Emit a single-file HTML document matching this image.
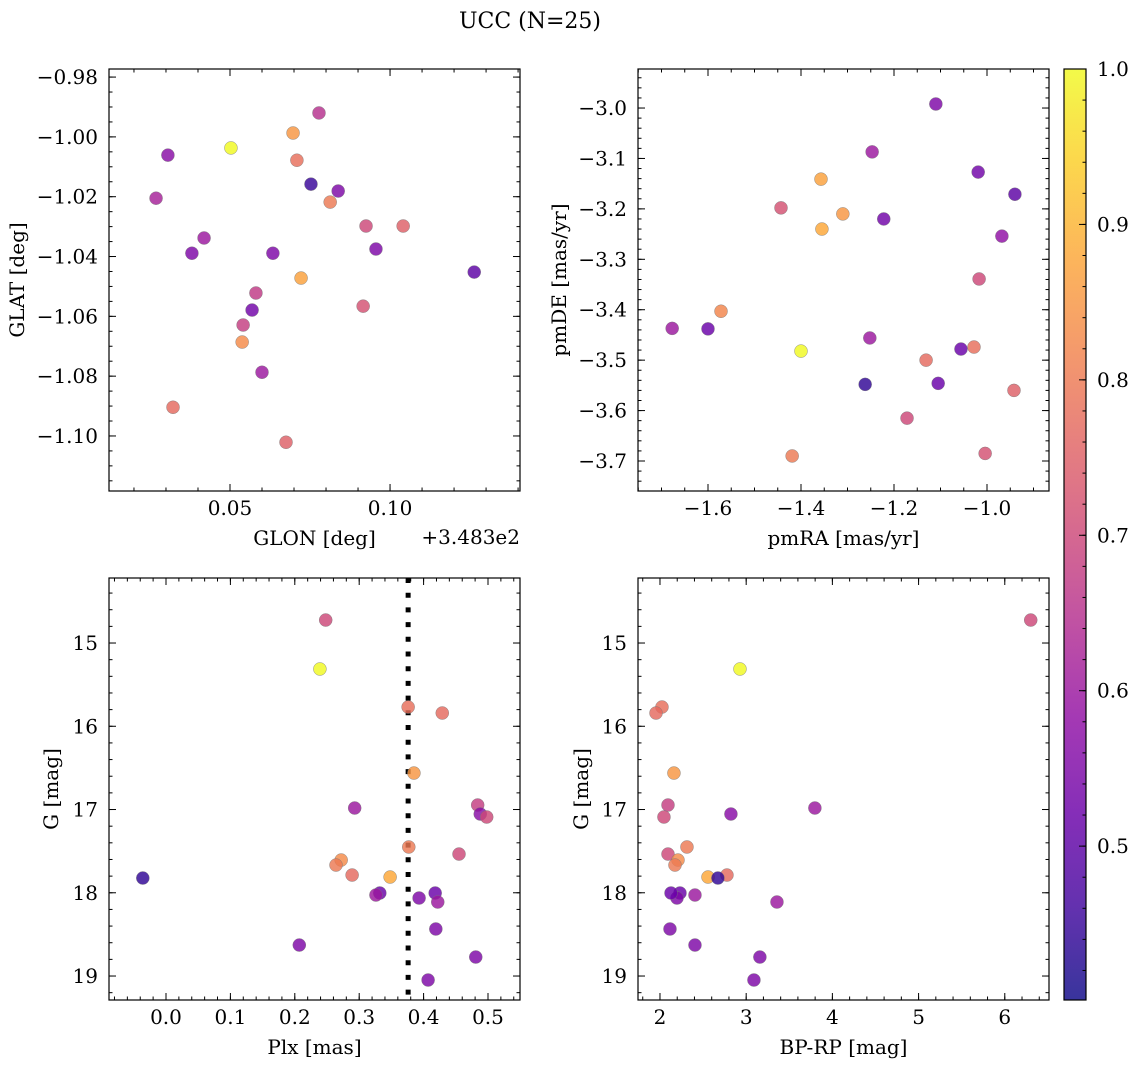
<!DOCTYPE html>
<html><head><meta charset="utf-8"><style>
body{margin:0;background:#fff;}
svg{display:block;font-family:"DejaVu Serif","Liberation Serif",serif;}
</style></head><body>
<svg id="fig" width="1136" height="1068" viewBox="0 0 1136 1068" xmlns="http://www.w3.org/2000/svg">
<text x="530" y="28" font-size="22" text-anchor="middle">UCC (N=25)</text>
</svg>
<script>
// ---- data ----
const prob1 = [1.0,0.85,0.65,0.57,0.78,0.45,0.55,0.62,0.8,0.7,0.75,0.6,0.55,0.55,0.55,0.87,0.5,0.67,0.53,0.68,0.72,0.83,0.6,0.77,0.75];
const glon = [0.0503,0.0697,0.0778,0.0306,0.0709,0.0753,0.0838,0.0269,0.0813,0.0925,0.1041,0.0419,0.0381,0.0634,0.0956,0.0722,0.1263,0.0581,0.0569,0.0541,0.0916,0.0538,0.0600,0.0322,0.0675];
const glat = [-1.0037,-0.9987,-0.9920,-1.0061,-1.0078,-1.0158,-1.0181,-1.0205,-1.0218,-1.0298,-1.0298,-1.0338,-1.0389,-1.0389,-1.0375,-1.0472,-1.0452,-1.0522,-1.0579,-1.0629,-1.0566,-1.0686,-1.0787,-1.0904,-1.1021];
const prob2 = [0.55,0.6,0.53,0.5,0.87,0.72,0.85,0.53,0.88,0.58,0.7,0.82,0.6,0.52,1.0,0.6,0.52,0.78,0.77,0.44,0.52,0.75,0.7,0.8,0.72];
const pmra = [-1.110,-1.247,-1.019,-0.940,-1.357,-1.443,-1.310,-1.222,-1.355,-0.968,-1.017,-1.572,-1.677,-1.600,-1.400,-1.252,-1.056,-1.028,-1.131,-1.262,-1.105,-0.942,-1.172,-1.419,-1.004];
const pmde = [-2.992,-3.087,-3.127,-3.171,-3.141,-3.198,-3.210,-3.220,-3.240,-3.254,-3.339,-3.403,-3.437,-3.438,-3.482,-3.456,-3.478,-3.474,-3.500,-3.548,-3.546,-3.560,-3.615,-3.690,-3.685];
const prob3 = [0.7,1.0,0.78,0.77,0.85,0.6,0.68,0.57,0.7,0.8,0.7,0.83,0.8,0.77,0.88,0.44,0.52,0.6,0.55,0.52,0.6,0.55,0.55,0.55,0.55];
const plx = [0.248,0.239,0.376,0.429,0.385,0.293,0.484,0.488,0.498,0.377,0.455,0.272,0.264,0.289,0.348,-0.036,0.332,0.326,0.393,0.418,0.422,0.419,0.207,0.481,0.407];
const gmag = [14.724,15.312,15.769,15.841,16.562,16.982,16.946,17.054,17.090,17.450,17.535,17.607,17.667,17.787,17.811,17.823,18.003,18.027,18.063,18.003,18.111,18.435,18.628,18.772,19.048];
const bprp = [6.301,2.928,2.023,1.954,2.162,3.797,2.093,2.823,2.046,2.313,2.093,2.209,2.174,2.777,2.557,2.672,2.232,2.406,2.197,2.128,3.357,2.116,2.406,3.159,3.090];
const plxCut = 0.376;
const cbTicks = [0.5,0.6,0.7,0.8,0.9,1.0];
const cbLabels = ["0.5","0.6","0.7","0.8","0.9","1.0"];
const vmin = 0.401, vmax = 1.0;

const NS="http://www.w3.org/2000/svg";
const svg=document.getElementById('fig');
const FS=20;
function mk(tag,attrs,parent){const e=document.createElementNS(NS,tag);for(const k in attrs)e.setAttribute(k,attrs[k]);(parent||svg).appendChild(e);return e;}
const stops=[[0,'#0d0887'],[0.1,'#41049d'],[0.2,'#6a00a8'],[0.3,'#8f0da4'],[0.4,'#b12a90'],[0.5,'#cc4778'],[0.6,'#e16462'],[0.7,'#f2844b'],[0.8,'#fca636'],[0.9,'#fcce25'],[1,'#f0f921']];
function hex(h){return [1,3,5].map(i=>parseInt(h.substr(i,2),16));}
function plasma(t){t=Math.max(0,Math.min(1,t));for(let i=0;i<stops.length-1;i++){if(t<=stops[i+1][0]){const f=(t-stops[i][0])/(stops[i+1][0]-stops[i][0]);const a=hex(stops[i][1]),b=hex(stops[i+1][1]);return 'rgb('+a.map((v,j)=>Math.round(v+(b[j]-v)*f)).join(',')+')';}}return stops[10][1];}

function panel(o){
  const {name,L,T,W,H,x0,x1,y0,y1,xs,c,ys,xt,xl,xminor,yt,yl,yminor,xlabel,ylabel,ylabX}=o;
  const sx=v=>L+(v-x0)/(x1-x0)*W, sy=v=>T+(v-y0)/(y1-y0)*H;
  const g=mk('g',{});
  
  
  function ticks(vals,len,axis,lab){
    vals.forEach((v,i)=>{
      if(axis==='x'){const p=sx(v);if(p<L-0.5||p>L+W+0.5)return;
        const t1=mk('line',{x1:p,x2:p,y1:T+H,y2:T+H-len,stroke:'#000','stroke-width':1},g);
        
        const t2=mk('line',{x1:p,x2:p,y1:T,y2:T+len,stroke:'#000','stroke-width':1},g);
        
        if(lab){const tx=mk('text',{x:p,y:T+H+24,'font-size':FS,'text-anchor':'middle'},g);tx.textContent=lab[i];
          }
      } else {const p=sy(v);if(p<T-0.5||p>T+H+0.5)return;
        const t1=mk('line',{x1:L,x2:L+len,y1:p,y2:p,stroke:'#000','stroke-width':1},g);
        
        const t2=mk('line',{x1:L+W,x2:L+W-len,y1:p,y2:p,stroke:'#000','stroke-width':1},g);
        
        if(lab){const tx=mk('text',{x:L-11,y:p+7,'font-size':FS,'text-anchor':'end'},g);tx.textContent=lab[i];
          }
      }
    });
  }
  ticks(xminor,3.5,'x',null);ticks(yminor,3.5,'y',null);
  ticks(xt,7,'x',xl);ticks(yt,7,'y',yl);
  if(o.vline!==undefined){const vl=mk('line',{x1:sx(o.vline),x2:sx(o.vline),y1:T,y2:T+H,stroke:'#000','stroke-width':5,'stroke-dasharray':'5 9.7'},g);
    }
  xs.forEach((v,i)=>{
    const d=mk('circle',{cx:sx(v),cy:sy(ys[i]),r:6.5,fill:plasma((c[i]-vmin)/(vmax-vmin)),'fill-opacity':0.82,stroke:'#777','stroke-width':0.4},g);
    
    
  });
  const fr=mk('rect',{x:L,y:T,width:W,height:H,fill:'none',stroke:'#000','stroke-width':1.2},g);
  
  const xla=mk('text',{x:L+W/2,y:T+H+54,'font-size':FS,'text-anchor':'middle'},g);xla.textContent=xlabel;
  
  const yla=mk('text',{x:0,y:0,'font-size':FS,'text-anchor':'middle',transform:`translate(${ylabX},${T+H/2}) rotate(-90)`},g);yla.textContent=ylabel;
  
  return g;
}
function rng(a,b,s){const r=[];for(let v=a;v<=b+1e-9;v+=s)r.push(+v.toFixed(6));return r;}

panel({name:'glon-glat-panel',L:109,T:69,W:411,H:422,x0:0.0122,x1:0.1406,y0:-0.9773,y1:-1.1184,xs:glon,ys:glat,c:prob1,
  xt:[0.05,0.10],xl:['0.05','0.10'],xminor:rng(0.02,0.14,0.01),
  yt:[-0.98,-1.00,-1.02,-1.04,-1.06,-1.08,-1.10],yl:['−0.98','−1.00','−1.02','−1.04','−1.06','−1.08','−1.10'],yminor:rng(-1.115,-0.975,0.005),
  xlabel:'GLON [deg]',ylabel:'GLAT [deg]',ylabX:24});
const off=mk('text',{x:520,y:544,'font-size':FS,'text-anchor':'end'});off.textContent='+3.483e2';



panel({name:'pm-panel',L:638,T:69,W:411,H:422,x0:-1.7505,x1:-0.8667,y0:-2.9226,y1:-3.7595,xs:pmra,ys:pmde,c:prob2,
  xt:[-1.6,-1.4,-1.2,-1.0],xl:['−1.6','−1.4','−1.2','−1.0'],xminor:rng(-1.75,-0.9,0.05),
  yt:[-3.0,-3.1,-3.2,-3.3,-3.4,-3.5,-3.6,-3.7],yl:['−3.0','−3.1','−3.2','−3.3','−3.4','−3.5','−3.6','−3.7'],yminor:rng(-3.74,-2.94,0.02),
  xlabel:'pmRA [mas/yr]',ylabel:'pmDE [mas/yr]',ylabX:566});
const gt=[15,16,17,18,19],gl=['15','16','17','18','19'],gm=rng(14.4,19.2,0.2);
panel({name:'plx-g-panel',L:109,T:578,W:411,H:422,x0:-0.0885,x1:0.5497,y0:14.219,y1:19.288,xs:plx,ys:gmag,c:prob3,vline:plxCut,
  xt:[0,0.1,0.2,0.3,0.4,0.5],xl:['0.0','0.1','0.2','0.3','0.4','0.5'],xminor:rng(-0.08,0.54,0.02),
  yt:gt,yl:gl,yminor:gm,xlabel:'Plx [mas]',ylabel:'G [mag]',ylabX:58});
panel({name:'cmd-panel',L:638,T:578,W:411,H:422,x0:1.745,x1:6.513,y0:14.219,y1:19.288,xs:bprp,ys:gmag,c:prob3,
  xt:[2,3,4,5,6],xl:['2','3','4','5','6'],xminor:rng(1.8,6.4,0.2),
  yt:gt,yl:gl,yminor:gm,xlabel:'BP-RP [mag]',ylabel:'G [mag]',ylabX:588});

// colorbar
const defs=mk('defs',{});
const lg=mk('linearGradient',{id:'cbg',x1:0,y1:1,x2:0,y2:0},defs);
for(let i=0;i<=20;i++){const t=i/20;mk('stop',{offset:t,'stop-color':plasma(t)},lg);}
const cbT=69,cbB=1000,cbL=1064,cbW=22;
const cbr=mk('rect',{x:cbL,y:cbT,width:cbW,height:cbB-cbT,fill:'url(#cbg)','fill-opacity':0.82});


const cbf=mk('rect',{x:cbL,y:cbT,width:cbW,height:cbB-cbT,fill:'none',stroke:'#000','stroke-width':1.2});


const cy=v=>cbB-(v-vmin)/(vmax-vmin)*(cbB-cbT);
rng(0.42,1.0,0.02).forEach(v=>{const m=mk('line',{x1:cbL+cbW,x2:cbL+cbW-3.5,y1:cy(v),y2:cy(v),stroke:'#000'});
  });
cbTicks.forEach((v,i)=>{const m=mk('line',{x1:cbL+cbW,x2:cbL+cbW-7,y1:cy(v),y2:cy(v),stroke:'#000'});
  
  const t=mk('text',{x:1097,y:cy(v)+7,'font-size':FS});t.textContent=cbLabels[i];
  });
</script>
</body></html>
